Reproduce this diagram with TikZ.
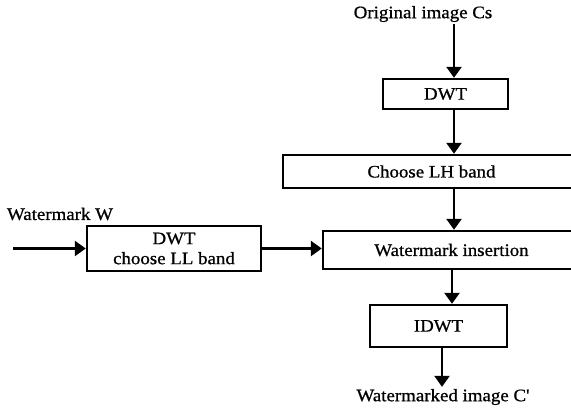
\documentclass[tikz,border=0pt]{standalone}
\usepackage{fontspec}
\setmainfont{Liberation Serif}[FakeStretch=1.08,FakeBold=0.8,Ligatures=TeXOff]
\usetikzlibrary{arrows.meta}
\begin{document}
\begin{tikzpicture}[x=1pt,y=-1pt,
  every node/.style={font=\fontsize{17.5}{20}\selectfont},
  blk/.style={draw,line width=2.4pt,inner sep=0pt,align=center},
  lbl/.style={inner sep=2pt},
  arr/.style={line width=2.4pt,-{Triangle[length=11pt,width=15pt]}}]
\useasboundingbox (0,0) rectangle (571,408);
\clip (0,0) rectangle (571,408);
\node[lbl] (orig) at (423,14) {Original image Cs};
\node[blk,minimum width=125pt,minimum height=30pt] (dwt1) at (445.5,94) {DWT};
\node[blk,minimum width=297pt,minimum height=33pt] (lh) at (431.5,171.5) {Choose LH band};
\node[lbl] (wm) at (60,214) {Watermark W};
\node[blk,minimum width=174pt,minimum height=45pt] (dwtll) at (174,248.5) {DWT\\choose LL band};
\node[blk,minimum width=257pt,minimum height=38pt] (ins) at (451.5,250) {Watermark insertion};
\node[blk,minimum width=137pt,minimum height=42pt] (idwt) at (438.5,326) {IDWT};
\node[lbl] (out) at (443,397) {Watermarked image C'};
\coordinate (colA) at (454,0);
\coordinate (colB) at (452,0);
\coordinate (colC) at (442,0);
\coordinate (wmstart) at (13,248.5);
\draw[arr] (orig.south -| colA) -- (dwt1.north -| colA);
\draw[arr] (dwt1.south -| colA) -- (lh.north -| colA);
\draw[arr] (lh.south -| colA) -- (ins.north -| colA);
\draw[arr] (ins.south -| colB) -- (idwt.north -| colB);
\draw[arr] (idwt.south -| colC) -- (out.north -| colC);
\draw[arr] (wmstart) -- (dwtll.west);
\draw[arr] (dwtll.east) -- (dwtll.east -| ins.west);
\end{tikzpicture}
\end{document}
